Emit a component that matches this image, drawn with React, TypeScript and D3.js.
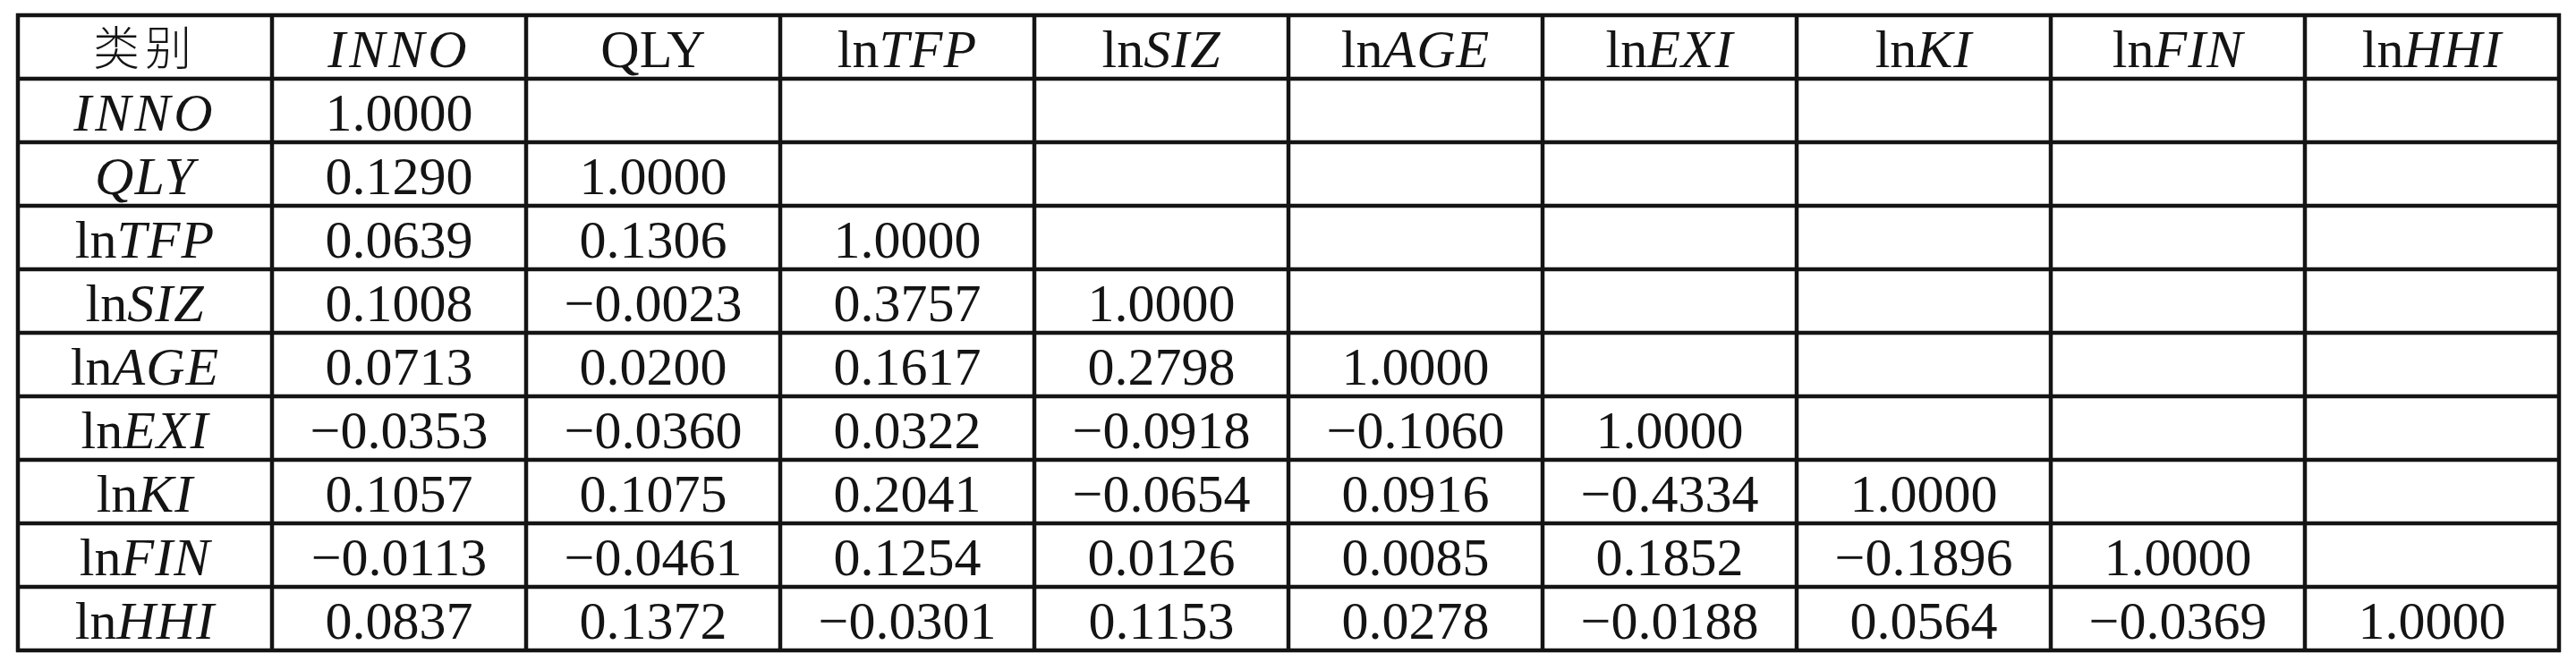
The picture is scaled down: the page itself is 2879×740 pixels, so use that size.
import { useEffect, useRef } from "react";
import * as d3 from "d3";

// Variable names: an upright "ln" prefix plus an italic symbol
type Label = { pre: string; it: string; plain?: string };

const HEADERS: Label[] = [
  { pre: "", it: "", plain: "类别" },
  { pre: "", it: "INNO" },
  { pre: "", it: "", plain: "QLY" },
  { pre: "ln", it: "TFP" },
  { pre: "ln", it: "SIZ" },
  { pre: "ln", it: "AGE" },
  { pre: "ln", it: "EXI" },
  { pre: "ln", it: "KI" },
  { pre: "ln", it: "FIN" },
  { pre: "ln", it: "HHI" },
];

const ROW_LABELS: Label[] = [
  { pre: "", it: "INNO" },
  { pre: "", it: "QLY" },
  { pre: "ln", it: "TFP" },
  { pre: "ln", it: "SIZ" },
  { pre: "ln", it: "AGE" },
  { pre: "ln", it: "EXI" },
  { pre: "ln", it: "KI" },
  { pre: "ln", it: "FIN" },
  { pre: "ln", it: "HHI" },
];

// lower-triangular correlation matrix
const CORR: number[][] = [
  [1.0],
  [0.129, 1.0],
  [0.0639, 0.1306, 1.0],
  [0.1008, -0.0023, 0.3757, 1.0],
  [0.0713, 0.02, 0.1617, 0.2798, 1.0],
  [-0.0353, -0.036, 0.0322, -0.0918, -0.106, 1.0],
  [0.1057, 0.1075, 0.2041, -0.0654, 0.0916, -0.4334, 1.0],
  [-0.0113, -0.0461, 0.1254, 0.0126, 0.0085, 0.1852, -0.1896, 1.0],
  [0.0837, 0.1372, -0.0301, 0.1153, 0.0278, -0.0188, 0.0564, -0.0369, 1.0],
];

const WIDTH = 2879;
const HEIGHT = 740;
const TABLE = { left: 20, right: 2860, top: 17, bottom: 727 };
const FONT = "'Liberation Serif', 'Times New Roman', serif";
const CJK = "'Noto Sans CJK SC', sans-serif";
const INK = "#141414";

export default function App() {
  const svgRef = useRef<SVGSVGElement>(null);

  useEffect(() => {
    if (!svgRef.current) return;
    const svg = d3.select(svgRef.current);
    svg.selectAll("*").remove();

    const cols = d3
      .scaleBand<number>()
      .domain(d3.range(HEADERS.length))
      .range([TABLE.left, TABLE.right]);
    const rows = d3
      .scaleBand<number>()
      .domain(d3.range(ROW_LABELS.length + 1))
      .range([TABLE.top, TABLE.bottom]);

    const fmt = d3.format(".4f");
    const baseline = (r: number) => (rows(r) ?? 0) + 58;
    const cx = (c: number) => (cols(c) ?? 0) + cols.bandwidth() / 2;

    svg
      .append("rect")
      .attr("width", WIDTH)
      .attr("height", HEIGHT)
      .attr("fill", "#fff");

    const drawLabel = (lab: Label, r: number, c: number) => {
      const t = svg
        .append("text")
        .attr("x", cx(c))
        .attr("y", baseline(r))
        .attr("text-anchor", "middle")
        .attr("fill", INK)
        .attr("font-size", 60)
        .attr("font-family", FONT);
      if (lab.plain) {
        const isCjk = /[\u4e00-\u9fff]/.test(lab.plain);
        t.text(lab.plain);
        if (isCjk)
          t.attr("font-family", CJK)
            .attr("font-size", 52)
            .attr("font-weight", 300)
            .attr("letter-spacing", 6)
            .attr("y", baseline(r) - 2);
        return;
      }
      if (lab.pre) t.append("tspan").text(lab.pre);
      t.append("tspan")
        .attr("font-style", "italic")
        .attr("letter-spacing", lab.it === "INNO" ? 4 : 1)
        .text(lab.it);
    };

    HEADERS.forEach((h, c) => drawLabel(h, 0, c));
    ROW_LABELS.forEach((l, i) => drawLabel(l, i + 1, 0));

    CORR.forEach((vals, i) => {
      vals.forEach((v, j) => {
        svg
          .append("text")
          .attr("x", cx(j + 1))
          .attr("y", baseline(i + 1))
          .attr("text-anchor", "middle")
          .attr("fill", INK)
          .attr("font-size", 60)
          .attr("font-family", FONT)
          .text(fmt(v));
      });
    });

    // grid lines
    const grid = svg.append("g").attr("stroke", INK).attr("stroke-width", 4.5);
    const xs = [...cols.domain().map((c) => cols(c) ?? 0), TABLE.right];
    const ys = [...rows.domain().map((r) => rows(r) ?? 0), TABLE.bottom];
    grid
      .selectAll("line.v")
      .data(xs)
      .join("line")
      .attr("class", "v")
      .attr("x1", (d) => d)
      .attr("x2", (d) => d)
      .attr("y1", TABLE.top - 2)
      .attr("y2", TABLE.bottom + 2);
    grid
      .selectAll("line.h")
      .data(ys)
      .join("line")
      .attr("class", "h")
      .attr("x1", TABLE.left - 2)
      .attr("x2", TABLE.right + 2)
      .attr("y1", (d) => d)
      .attr("y2", (d) => d);
  }, []);

  return (
    <div style={{ position: "fixed", left: 0, top: 0 }}>
      <svg ref={svgRef} width={WIDTH} height={HEIGHT} style={{ display: "block" }} />
    </div>
  );
}
